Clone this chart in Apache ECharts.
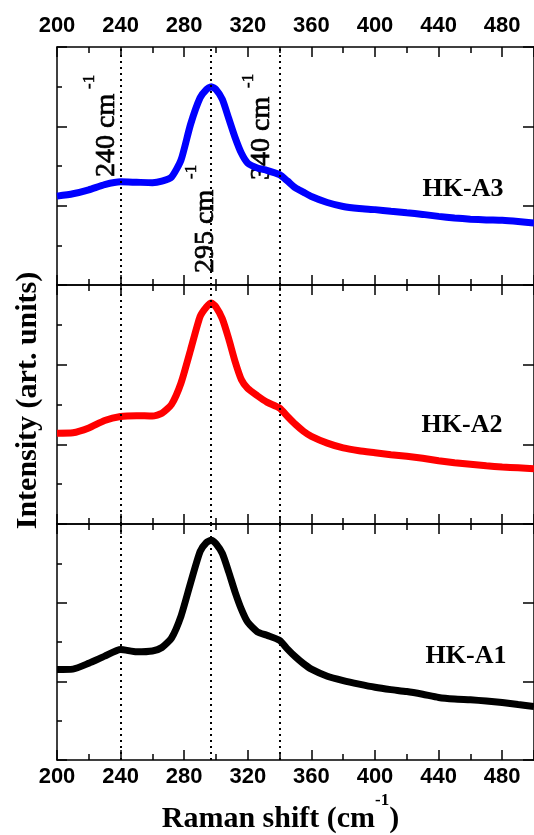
<!DOCTYPE html>
<html>
<head>
<meta charset="utf-8">
<script src="https://cdn.jsdelivr.net/npm/echarts@6/dist/echarts.min.js"></script>
<style>
  html, body { margin: 0; padding: 0; background: #fff; }
  #chart { width: 534px; height: 835px; }
</style>
</head>
<body>
<div id="chart"></div>
<script>
// Raman shift (cm-1), shared by the three spectra
var shifts = [200, 210, 220, 230, 240, 250, 260, 266, 272, 278, 284, 290, 294, 297, 300,
  304, 308, 312, 316, 320, 326, 332, 340, 345, 350, 355, 360, 370, 380, 390, 400,
  410, 420, 430, 440, 450, 460, 470, 480, 490, 500];

// intensities (arbitrary units, panel scale 0..6)
var intensityA3 = [2.24, 2.30, 2.40, 2.53, 2.60, 2.59, 2.58, 2.62, 2.72, 3.15, 4.05, 4.72, 4.93, 5.00, 4.93,
  4.68, 4.20, 3.72, 3.32, 3.07, 2.95, 2.89, 2.78, 2.62, 2.45, 2.34, 2.23, 2.08, 1.98, 1.93, 1.90,
  1.86, 1.82, 1.78, 1.73, 1.69, 1.66, 1.64, 1.63, 1.60, 1.56];
var intensityA2 = [2.28, 2.29, 2.41, 2.60, 2.70, 2.72, 2.71, 2.78, 3.00, 3.54, 4.37, 5.21, 5.45, 5.55, 5.45,
  5.15, 4.65, 4.08, 3.62, 3.40, 3.22, 3.06, 2.91, 2.70, 2.50, 2.33, 2.20, 2.03, 1.91, 1.84, 1.79,
  1.74, 1.70, 1.65, 1.59, 1.54, 1.50, 1.46, 1.43, 1.41, 1.39];
var intensityA1 = [2.30, 2.31, 2.46, 2.64, 2.81, 2.75, 2.77, 2.86, 3.10, 3.66, 4.50, 5.30, 5.53, 5.59, 5.50,
  5.25, 4.78, 4.27, 3.83, 3.50, 3.26, 3.17, 3.04, 2.82, 2.62, 2.45, 2.31, 2.13, 2.02, 1.93, 1.85,
  1.79, 1.74, 1.67, 1.59, 1.55, 1.53, 1.50, 1.46, 1.41, 1.36];

// dotted reference lines (where they sit in the picture) and their labels
var refShifts = [240, 297, 340];
var refLabels = ['240 cm', '295 cm', '340 cm'];

var sampleNames = ['HK-A3', 'HK-A2', 'HK-A1'];
var lineColors = ['#0000ff', '#ff0000', '#000000'];

var chart = echarts.init(document.getElementById('chart'));

var serif = 'Liberation Serif, Times New Roman, serif';
var sans = 'Liberation Sans, Arial, sans-serif';

var panels = [
  { top: 47, height: 238 },
  { top: 285, height: 239 },
  { top: 524, height: 237 }
];

function toPairs(xs, ys) {
  return xs.map(function (x, i) { return [x, ys[i]]; });
}

var tickStyle = { color: '#000', width: 1.5 };

function makeXAxis(gridIndex, position, showLabel) {
  return {
    type: 'value',
    gridIndex: gridIndex,
    position: position,
    min: 200,
    max: 500,
    interval: 40,
    axisLine: { show: true, onZero: false, lineStyle: tickStyle },
    axisTick: { show: true, inside: true, length: 10, lineStyle: tickStyle },
    minorTick: { show: true, splitNumber: 2, length: 6, lineStyle: tickStyle },
    splitLine: { show: false },
    axisLabel: {
      show: showLabel,
      showMaxLabel: false,
      margin: position == 'top' ? 10 : 6,
      color: '#000',
      fontFamily: sans,
      fontWeight: 'bold',
      fontSize: 22
    }
  };
}

function makeYAxis(gridIndex, position) {
  var left = position == 'left';
  return {
    type: 'value',
    gridIndex: gridIndex,
    position: position,
    min: 0,
    max: 6,
    interval: 2,
    axisLine: { show: true, onZero: false, lineStyle: tickStyle },
    axisTick: { show: true, inside: true, length: left ? 10 : 11, lineStyle: tickStyle },
    minorTick: { show: left, splitNumber: 2, length: 5, lineStyle: tickStyle },
    splitLine: { show: false },
    axisLabel: { show: false }
  };
}

var grids = [], xAxes = [], yAxes = [], series = [];
var intensities = [intensityA3, intensityA2, intensityA1];

panels.forEach(function (p, i) {
  grids.push({ left: 57, right: -7, top: p.top, height: p.height });
  xAxes.push(makeXAxis(i, 'bottom', i == 2));
  xAxes.push(makeXAxis(i, 'top', i == 0));
  yAxes.push(makeYAxis(i, 'left'));
  yAxes.push(makeYAxis(i, 'right'));

  // dotted guide lines under the curve
  series.push({
    type: 'line',
    xAxisIndex: i * 2,
    yAxisIndex: i * 2,
    data: [],
    z: 1,
    silent: true,
    markLine: {
      silent: true,
      symbol: 'none',
      label: { show: false },
      lineStyle: { color: '#000', type: [2, 4], width: 2 },
      data: refShifts.map(function (v) { return { xAxis: v }; })
    }
  });

  series.push({
    name: sampleNames[i],
    type: 'line',
    xAxisIndex: i * 2,
    yAxisIndex: i * 2,
    data: toPairs(shifts, intensities[i]),
    showSymbol: false,
    smooth: 0.2,
    z: 3,
    lineStyle: { color: lineColors[i], width: 7 }
  });
});

// x name on the bottom axis
xAxes[4].name = '{a|Raman shift (cm}{s|-1}{a|)}';
xAxes[4].nameLocation = 'middle';
xAxes[4].nameGap = 32;
xAxes[4].nameTextStyle = {
  padding: [0, 30, 0, 0],
  rich: {
    a: { fontFamily: serif, fontWeight: 'bold', fontSize: 30, lineHeight: 54, color: '#000' },
    s: { fontFamily: serif, fontWeight: 'bold', fontSize: 17, verticalAlign: 'top', color: '#000' }
  }
};

// y name on the middle panel
yAxes[2].name = 'Intensity (art. units)';
yAxes[2].nameLocation = 'middle';
yAxes[2].nameGap = 14;
yAxes[2].nameTextStyle = {
  fontFamily: serif, fontWeight: 'bold', fontSize: 30, color: '#000', padding: [0, 0, 0, 8]
};

// annotation texts (rotated) and sample names
var annotPos = [
  { x: 107, y: 177, sx: 90, sy: 89 },
  { x: 206, y: 273, sx: 192, sy: 179 },
  { x: 262, y: 180, sx: 249, sy: 88 }
];
var namePos = [[463, 189], [462, 425], [466, 656]];

var graphics = [];
annotPos.forEach(function (a, i) {
  graphics.push({
    type: 'text', x: a.x, y: a.y, rotation: Math.PI / 2, silent: true,
    style: {
      text: refLabels[i], fill: '#000', stroke: '#000', lineWidth: 0.7,
      font: '28px ' + serif, align: 'left', verticalAlign: 'middle'
    }
  });
  graphics.push({
    type: 'text', x: a.sx, y: a.sy, rotation: Math.PI / 2, silent: true,
    style: {
      text: '-1', fill: '#000', stroke: '#000', lineWidth: 0.5,
      font: '17px ' + serif, align: 'left', verticalAlign: 'middle'
    }
  });
});
namePos.forEach(function (p, i) {
  graphics.push({
    type: 'text', x: p[0], y: p[1], silent: true,
    style: { text: sampleNames[i], fill: '#000', font: 'bold 26px ' + serif, align: 'center', verticalAlign: 'middle' }
  });
});

chart.setOption({
  animation: false,
  backgroundColor: '#fff',
  grid: grids,
  xAxis: xAxes,
  yAxis: yAxes,
  series: series,
  graphic: graphics
});
</script>
</body>
</html>
